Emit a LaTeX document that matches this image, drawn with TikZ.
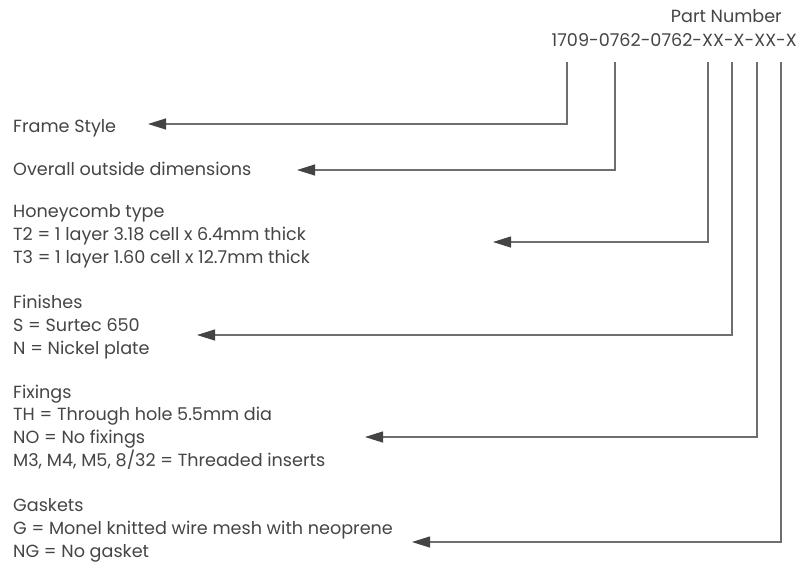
\documentclass[tikz,border=0pt]{standalone}
\usepackage{fontspec}
\setmainfont{Poppins}
\usetikzlibrary{arrows.meta}
\definecolor{txt}{HTML}{454545}
\definecolor{ln}{HTML}{6E6E6E}
\definecolor{hd}{HTML}{444444}
\begin{document}
\begin{tikzpicture}[x=1pt,y=-1pt,
  lbl/.style={anchor=base west,inner sep=0pt,align=left,text=txt,font=\fontsize{17.6}{22.8}\selectfont},
  pn/.style={anchor=base east,inner sep=0pt,text=txt,font=\fontsize{17.6}{22.8}\selectfont},
  conn/.style={draw=ln,line width=1.2pt,-{Triangle[length=18pt,width=11pt,color=hd]}}]
\useasboundingbox[fill=white] (0,0) rectangle (799,571);
\node[pn] (pnum) at (782,22) {Part Number};
\node[pn] (code) at (797,46.5) {1709-0762-0762-XX-X-XX-X};
% multi-line nodes: base anchor is the baseline of the last line
\node[lbl] (frame) at (13,132) {Frame Style};
\node[lbl] (dims) at (13,175) {Overall outside dimensions};
\node[lbl] (honey) at (13,263.5) {Honeycomb type\\T2 = 1 layer 3.18 cell x 6.4mm thick\\T3 = 1 layer 1.60 cell x 12.7mm thick};
\node[lbl] (fin) at (13,354.5) {Finishes\\S = Surtec 650\\N = Nickel plate};
\node[lbl] (fix) at (13,466.5) {Fixings\\TH = Through hole 5.5mm dia\\NO = No fixings\\M3, M4, M5, 8/32 = Threaded inserts};
\node[lbl] (gask) at (13,557) {Gaskets\\G = Monel knitted wire mesh with neoprene\\NG = No gasket};
\coordinate (t1) at (567,62); \coordinate (e1) at (148,124);
\coordinate (t2) at (615,62); \coordinate (e2) at (297,170);
\coordinate (t3) at (708,62); \coordinate (e3) at (493,242);
\coordinate (t4) at (732,62); \coordinate (e4) at (197,335);
\coordinate (t5) at (757,62); \coordinate (e5) at (365,437);
\coordinate (t6) at (781,62); \coordinate (e6) at (412,542);
\draw[conn] (t1) |- (e1);
\draw[conn] (t2) |- (e2);
\draw[conn] (t3) |- (e3);
\draw[conn] (t4) |- (e4);
\draw[conn] (t5) |- (e5);
\draw[conn] (t6) |- (e6);
\end{tikzpicture}
\end{document}
